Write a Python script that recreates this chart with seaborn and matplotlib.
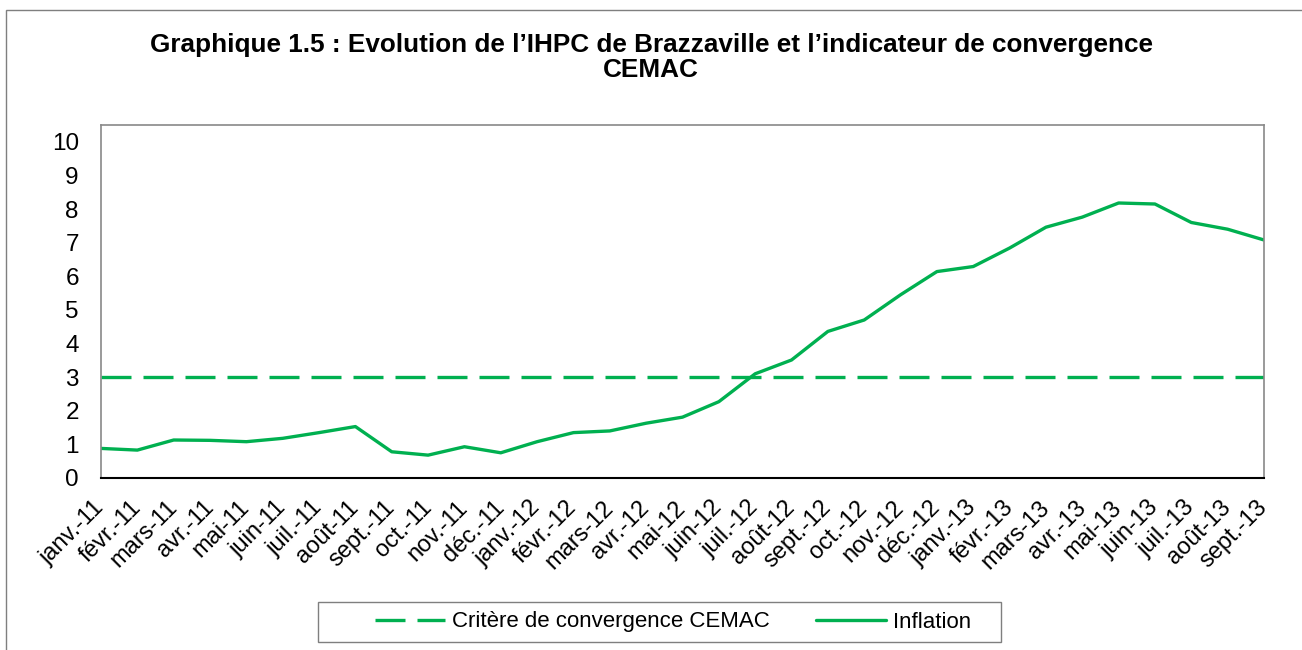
import pandas as pd
import matplotlib.pyplot as plt
import seaborn as sns
from matplotlib.patches import Rectangle
from matplotlib.lines import Line2D

# Données
mois = ['janv.-11', 'févr.-11', 'mars-11', 'avr.-11', 'mai-11', 'juin-11', 'juil.-11', 'août-11',
        'sept.-11', 'oct.-11', 'nov.-11', 'déc.-11', 'janv.-12', 'févr.-12', 'mars-12', 'avr.-12',
        'mai-12', 'juin-12', 'juil.-12', 'août-12', 'sept.-12', 'oct.-12', 'nov.-12', 'déc.-12',
        'janv.-13', 'févr.-13', 'mars-13', 'avr.-13', 'mai-13', 'juin-13', 'juil.-13', 'août-13',
        'sept.-13']
inflation = [0.88, 0.83, 1.13, 1.12, 1.08, 1.18, 1.35, 1.53, 0.78, 0.68, 0.93, 0.75, 1.08,
             1.35, 1.40, 1.63, 1.81, 2.27, 3.10, 3.51, 4.36, 4.70, 5.45, 6.14, 6.29, 6.84,
             7.46, 7.76, 8.18, 8.15, 7.60, 7.40, 7.08]
seuil_cemac = 3

df = pd.DataFrame({'Mois': mois, 'Inflation': inflation})

sns.set_style('white')
plt.rcParams['font.family'] = ['Liberation Sans', 'DejaVu Sans']
plt.rcParams['text.color'] = 'black'
plt.rcParams['xtick.color'] = 'black'
plt.rcParams['ytick.color'] = 'black'

vert = '#00B050'
fig = plt.figure(figsize=(13.02, 6.5), dpi=100)
ax = fig.add_axes([101 / 1302, 1 - 478 / 650, (1264 - 101) / 1302, (478 - 125) / 650])

# Critère de convergence (ligne pointillée)
ax.axhline(seuil_cemac, color=vert, lw=2.4, dashes=(9, 3.6), label='Critère de convergence CEMAC')
# Inflation
sns.lineplot(data=df, x='Mois', y='Inflation', sort=False, color=vert, lw=2.4,
             label='Inflation', ax=ax)

ax.set_xlim(0, len(mois) - 1)
ax.set_ylim(0, 10.5)
ax.set_yticks(range(0, 11))
ax.set_xticks(range(len(mois)))
ax.set_xticklabels(mois, rotation=45, ha='right', va='center', rotation_mode='anchor')
ax.tick_params(axis='y', labelsize=17.5, length=0, pad=16)
ax.tick_params(axis='x', labelsize=17, length=0, pad=19)
ax.set_xlabel('')
ax.set_ylabel('')

for s in ['top', 'left', 'right']:
    ax.spines[s].set_color('#898989')
    ax.spines[s].set_linewidth(1.2)
ax.spines['bottom'].set_color('black')
ax.spines['bottom'].set_linewidth(1.5)

# Titre
fig.text(0.5, 1 - 33 / 650,
         'Graphique 1.5 : Evolution de l\u2019IHPC de Brazzaville et l\u2019indicateur de convergence\nCEMAC',
         ha='center', va='top', fontsize=18.8, fontweight='bold', linespacing=1.05)

# Légende
handles = [Line2D([], [], color=vert, lw=2.4, dashes=(9, 3.6)),
           Line2D([], [], color=vert, lw=2.4)]
labels = ['Critère de convergence CEMAC', 'Inflation']
ax.get_legend().remove()
fig.legend(handles, labels, loc='center left', bbox_to_anchor=(364 / 1302, 1 - 622 / 650),
           ncol=2, frameon=False, fontsize=16, handlelength=3.15, handletextpad=0.3,
           columnspacing=2.1, borderpad=0)
fig.patches.append(Rectangle((318 / 1302, 1 - 642 / 650), (1001 - 318) / 1302, 40 / 650,
                             transform=fig.transFigure, fill=False, edgecolor='#7f7f7f', lw=1))

# Cadre extérieur
fig.patches.append(Rectangle((6 / 1302, -0.1), 1.2, 1.1 - 10 / 650,
                             transform=fig.transFigure, fill=False, edgecolor='#7f7f7f', lw=1))

fig.savefig('out.png', dpi=100)
